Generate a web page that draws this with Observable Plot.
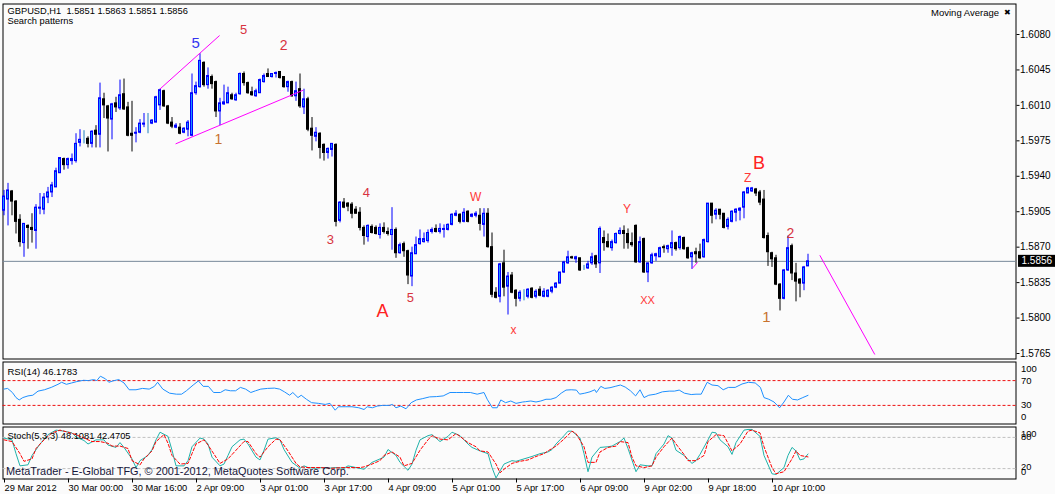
<!DOCTYPE html>
<html><head><meta charset="utf-8">
<script src="https://cdn.jsdelivr.net/npm/d3@7"></script>
<script src="https://cdn.jsdelivr.net/npm/@observablehq/plot@0.6"></script>
<style>
html,body{margin:0;padding:0;background:#fbfbfb;}
#wrap{position:relative;width:1055px;height:494px;background:#fbfbfb;overflow:hidden;font-family:"Liberation Sans",Arial,sans-serif;}
#wrap svg{position:absolute;left:0;}
</style></head><body><div id="wrap"></div>
<script>
// ---- GBPUSD H1 candles (bar index = hours from 29 Mar 2012 08:00) ----
const open = [
1.5906,1.5917,1.5925,1.5915,1.5897,1.5874,1.5891,1.5889,1.5886,1.5908,
1.5907,1.5919,1.5924,1.5929,1.5943,1.5957,1.5951,1.5955,1.5955,1.5973,
1.5975,1.5977,1.5972,1.5985,1.5981,1.6016,1.6009,1.5996,1.6012,1.6007,
1.6021,1.6008,1.5982,1.5982,1.5983,1.5991,1.5993,1.5992,1.5993,1.6010,
1.6024,1.6009,1.5993,1.5988,1.5988,1.5983,1.5986,1.5980,1.6022,1.6028,
1.6052,1.6030,1.6038,1.6033,1.6004,1.6011,1.6012,1.6020,1.6015,1.6021,
1.6041,1.6032,1.6023,1.6019,1.6022,1.6033,1.6041,1.6038,1.6041,1.6043,
1.6038,1.6028,1.6033,1.6019,1.6026,1.6008,1.6016,1.5987,1.5979,1.5982,
1.5971,1.5963,1.5966,1.5971,1.5896,1.5914,1.5913,1.5912,1.5907,1.5904,
1.5889,1.5880,1.5890,1.5889,1.5882,1.5889,1.5885,1.5882,1.5887,1.5864,
1.5873,1.5866,1.5841,1.5863,1.5873,1.5875,1.5876,1.5885,1.5888,1.5885,
1.5887,1.5887,1.5892,1.5901,1.5902,1.5895,1.5905,1.5900,1.5901,1.5901,
1.5892,1.5903,1.5870,1.5825,1.5821,1.5854,1.5831,1.5842,1.5827,1.5819,
1.5824,1.5821,1.5829,1.5821,1.5828,1.5821,1.5821,1.5826,1.5830,1.5834,
1.5845,1.5854,1.5860,1.5858,1.5859,1.5850,1.5849,1.5854,1.5861,1.5854,
1.5879,1.5875,1.5869,1.5874,1.5883,1.5886,1.5883,1.5874,1.5891,1.5855,
1.5878,1.5845,1.5854,1.5861,1.5860,1.5870,1.5868,1.5869,1.5874,1.5869,
1.5879,1.5869,1.5860,1.5865,1.5865,1.5860,1.5875,1.5913,1.5902,1.5907,
1.5903,1.5890,1.5895,1.5904,1.5906,1.5909,1.5923,1.5925,1.5927,1.5924,
1.5917,1.5881,1.5864,1.5859,1.5833,1.5819,1.5847,1.5871,1.5844,1.5838,
1.5834,1.5851];
const high = [
1.5926,1.5933,1.5926,1.5916,1.5902,1.5893,1.5892,1.5903,1.5912,1.5923,
1.5923,1.5929,1.5934,1.5948,1.5958,1.5958,1.5958,1.5962,1.5982,1.5986,
1.5985,1.5979,1.5985,1.5990,1.6032,1.6022,1.6010,1.6012,1.6018,1.6035,
1.6036,1.6013,1.6014,1.5988,1.5996,1.6002,1.6002,1.5996,1.6019,1.6026,
1.6025,1.6010,1.5998,1.5992,1.5992,1.5988,1.5995,1.6041,1.6033,1.6061,
1.6053,1.6047,1.6040,1.6034,1.6017,1.6030,1.6028,1.6022,1.6022,1.6042,
1.6043,1.6033,1.6028,1.6026,1.6036,1.6041,1.6046,1.6041,1.6043,1.6043,
1.6038,1.6034,1.6034,1.6033,1.6041,1.6026,1.6018,1.5998,1.5988,1.5983,
1.5972,1.5968,1.5972,1.5972,1.5915,1.5918,1.5914,1.5914,1.5910,1.5909,
1.5891,1.5892,1.5892,1.5891,1.5893,1.5894,1.5889,1.5909,1.5889,1.5874,
1.5875,1.5867,1.5870,1.5880,1.5887,1.5884,1.5887,1.5889,1.5892,1.5893,
1.5892,1.5893,1.5903,1.5906,1.5903,1.5908,1.5906,1.5903,1.5905,1.5908,
1.5908,1.5908,1.5884,1.5830,1.5854,1.5867,1.5845,1.5845,1.5828,1.5827,
1.5828,1.5829,1.5830,1.5828,1.5831,1.5829,1.5828,1.5831,1.5835,1.5845,
1.5856,1.5866,1.5861,1.5861,1.5859,1.5852,1.5856,1.5864,1.5862,1.5890,
1.5886,1.5883,1.5877,1.5884,1.5889,1.5891,1.5888,1.5884,1.5892,1.5880,
1.5879,1.5854,1.5864,1.5864,1.5870,1.5872,1.5872,1.5886,1.5875,1.5881,
1.5880,1.5870,1.5865,1.5869,1.5873,1.5878,1.5913,1.5913,1.5908,1.5907,
1.5903,1.5899,1.5906,1.5908,1.5909,1.5925,1.5929,1.5929,1.5928,1.5926,
1.5926,1.5884,1.5865,1.5862,1.5834,1.5848,1.5881,1.5873,1.5854,1.5839,
1.5851,1.5863];
const low = [
1.5901,1.5891,1.5901,1.5883,1.5870,1.5860,1.5868,1.5874,1.5868,1.5902,
1.5902,1.5913,1.5919,1.5929,1.5943,1.5946,1.5947,1.5951,1.5953,1.5969,
1.5972,1.5968,1.5968,1.5968,1.5968,1.5997,1.5964,1.5976,1.6003,1.6005,
1.6005,1.5979,1.5964,1.5973,1.5982,1.5988,1.5982,1.5991,1.5993,1.6005,
1.6008,1.5991,1.5987,1.5987,1.5981,1.5982,1.5979,1.5979,1.6020,1.6027,
1.6028,1.6026,1.6026,1.5998,1.5990,1.6010,1.6012,1.6015,1.6014,1.6020,
1.6029,1.6021,1.6019,1.6018,1.6022,1.6032,1.6038,1.6037,1.6037,1.6036,
1.6027,1.6023,1.6018,1.6014,1.6007,1.6001,1.5984,1.5965,1.5974,1.5957,
1.5955,1.5957,1.5959,1.5890,1.5894,1.5908,1.5905,1.5898,1.5903,1.5886,
1.5872,1.5875,1.5883,1.5882,1.5878,1.5883,1.5881,1.5867,1.5859,1.5863,
1.5860,1.5833,1.5831,1.5863,1.5872,1.5874,1.5874,1.5883,1.5884,1.5883,
1.5879,1.5886,1.5891,1.5900,1.5893,1.5894,1.5894,1.5899,1.5899,1.5886,
1.5880,1.5869,1.5820,1.5819,1.5815,1.5821,1.5803,1.5824,1.5811,1.5816,
1.5817,1.5819,1.5819,1.5819,1.5821,1.5820,1.5820,1.5824,1.5829,1.5834,
1.5844,1.5853,1.5858,1.5854,1.5846,1.5847,1.5848,1.5852,1.5849,1.5844,
1.5866,1.5869,1.5866,1.5873,1.5882,1.5868,1.5868,1.5870,1.5854,1.5854,
1.5844,1.5835,1.5853,1.5856,1.5860,1.5864,1.5864,1.5861,1.5866,1.5867,
1.5867,1.5858,1.5848,1.5854,1.5858,1.5859,1.5874,1.5893,1.5897,1.5897,
1.5888,1.5887,1.5894,1.5895,1.5896,1.5898,1.5923,1.5924,1.5920,1.5911,
1.5878,1.5851,1.5850,1.5832,1.5807,1.5818,1.5846,1.5837,1.5816,1.5820,
1.5827,1.5851];
const close = [
1.5920,1.5926,1.5915,1.5895,1.5875,1.5893,1.5889,1.5887,1.5909,1.5909,
1.5919,1.5924,1.5931,1.5945,1.5958,1.5951,1.5957,1.5957,1.5972,1.5976,
1.5975,1.5972,1.5984,1.5981,1.6017,1.6010,1.5997,1.6011,1.6008,1.6020,
1.6006,1.5980,1.5980,1.5983,1.5992,1.5992,1.5993,1.5995,1.6018,1.6025,
1.6009,1.5992,1.5989,1.5990,1.5982,1.5987,1.5993,1.6022,1.6029,1.6054,
1.6030,1.6039,1.6031,1.6004,1.6012,1.6013,1.6022,1.6016,1.6020,1.6041,
1.6032,1.6022,1.6020,1.6024,1.6035,1.6039,1.6038,1.6041,1.6042,1.6037,
1.6028,1.6033,1.6019,1.6024,1.6009,1.6016,1.5986,1.5980,1.5983,1.5968,
1.5963,1.5967,1.5972,1.5895,1.5914,1.5909,1.5910,1.5903,1.5903,1.5889,
1.5881,1.5891,1.5884,1.5883,1.5889,1.5885,1.5883,1.5887,1.5864,1.5872,
1.5866,1.5842,1.5864,1.5872,1.5878,1.5878,1.5884,1.5887,1.5885,1.5888,
1.5888,1.5892,1.5902,1.5903,1.5895,1.5904,1.5895,1.5902,1.5903,1.5893,
1.5903,1.5870,1.5823,1.5820,1.5853,1.5830,1.5841,1.5825,1.5819,1.5825,
1.5824,1.5828,1.5820,1.5826,1.5822,1.5826,1.5827,1.5830,1.5834,1.5845,
1.5855,1.5860,1.5859,1.5860,1.5847,1.5850,1.5853,1.5860,1.5853,1.5888,
1.5874,1.5870,1.5875,1.5883,1.5886,1.5883,1.5874,1.5872,1.5855,1.5875,
1.5845,1.5854,1.5862,1.5863,1.5869,1.5869,1.5871,1.5874,1.5868,1.5880,
1.5868,1.5859,1.5864,1.5863,1.5859,1.5877,1.5913,1.5901,1.5906,1.5902,
1.5889,1.5897,1.5905,1.5907,1.5908,1.5924,1.5928,1.5928,1.5923,1.5914,
1.5879,1.5865,1.5858,1.5833,1.5819,1.5847,1.5869,1.5844,1.5836,1.5834,
1.5850,1.5856];

// ---- price axis ticks ----
const priceTicks = [1.5765,1.5800,1.5835,1.5870,1.5905,1.5940,1.5975,1.6010,1.6045,1.6080];
// ---- time axis ----
const timeTickBars = [0,16,32,48,64,80,96,112,128,144,160,176,192];
const timeLabels = ["29 Mar 2012","30 Mar 00:00","30 Mar 16:00","2 Apr 09:00","3 Apr 01:00","3 Apr 17:00","4 Apr 09:00","5 Apr 01:00","5 Apr 17:00","6 Apr 09:00","9 Apr 02:00","9 Apr 18:00","10 Apr 10:00"];

// ---- wave annotations ----
const waveText  = ["5","5","2","1","3","4","A","5","W","x","Y","XX","B","Z","2","1"];
const waveBar   = [47.9,59.9,69.9,53.6,81.6,90.6,94.6,101.6,117.9,127.4,155.75,160.9,188.75,185.9,196.6,190.6];
const wavePrice = [1.6071,1.6085,1.6069,1.5976,1.5877,1.5924,1.5807,1.5820,1.5919,1.5788,1.5908,1.5817,1.5953,1.5938,1.5883,1.5801];
const waveColor = ["#3434f0","#d8333f","#d8333f","#c8722e","#d8333f","#d8333f","#ff2222","#d8333f","#ff3838","#ff3838","#ff3838","#ff3838","#ff2222","#ff3838","#d8333f","#c8722e"];
const waveSize  = [15,13,14,14,13,13,18,13,12,12,12,11,18,12,14,15];

// ---- trend lines (magenta) ----
const trendBar1 = [38.95,42.9,172.05,203.95];
const trendP1   = [1.6026,1.5972,1.5849,1.5862];
const trendBar2 = [53.9,74.8,173.4,217.7];
const trendP2   = [1.6079,1.6025,1.5855,1.5764];

// ---- RSI(14) ----
const rsiBar = [0.0,0.9,2.1,3.0,3.8,4.7,6.0,7.2,8.5,10.1,11.8,13.5,14.4,15.6,16.9,18.2,19.9,21.1,22.4,23.2,24.1,25.4,26.2,27.5,28.7,30.0,31.3,33.0,34.6,36.3,37.6,38.4,39.7,41.4,43.1,44.4,45.6,47.3,48.6,49.8,51.1,52.4,54.1,55.3,56.6,57.9,59.1,60.4,61.7,62.9,64.2,65.9,67.6,68.9,70.1,71.4,72.2,73.5,74.3,75.6,76.9,78.6,80.3,81.5,82.8,83.6,85.3,87.0,88.7,90.0,90.8,92.1,93.3,94.6,96.3,97.1,98.0,99.2,100.5,101.8,103.1,104.7,106.4,108.1,109.8,111.5,113.2,114.9,116.6,118.3,120.0,120.8,122.1,123.3,124.2,125.4,126.7,128.0,129.7,
130.4,131.7,133,134.2,135.5,136.7,138,139.3,140.5,141.8,143.1,143.9,145.2,146.5,147.7,148.1,149.2,150.2,151.5,152.8,154.1,155.3,156.6,157.9,159,160,161.2,162.9,164.6,166.3,167.6,168.8,170.1,171.8,173,174.3,175.8,177,178.5,179.8,181.1,182.8,184.5,186.1,187.8,189.1,190,191.2,192.5,193.9,195,196.1,197.1,198.4,199.7,201];
const rsiVal = [56.3,57.4,50.8,42.6,38.8,42.6,45.3,46.4,53,55.2,59,64,67.3,64,66.2,68.4,70.5,70,71.6,70,77.1,72.7,67.3,70,71.6,66.2,55.2,55.2,57.4,56.3,60.7,67.3,56.3,49.7,48.1,48.1,53.6,62.9,69.5,60.7,60.7,50.8,50.8,55.2,53.6,53.6,59,56.3,50.8,53.6,56.3,57.4,57.9,56.3,51.9,46.4,50.8,42.6,46.4,39.9,34.4,33.3,31.6,33.3,22.3,27.8,27.8,27.8,26.2,23.4,27.8,26.2,28.9,30,30,31.6,26.2,28.9,24.5,34.4,38.8,41,43.7,44.2,45.3,50.8,50.8,50.8,50.8,48.1,50.8,39.9,26.2,26.2,38.8,34.4,37.1,33.3,35.5,
36,37.1,35.5,37.1,39.9,39.9,42.6,49.7,54.7,55.2,54.7,48.1,49.7,51.9,55.2,50.8,60.7,57.4,58.5,60.7,62.9,59.6,53.6,45.3,55.2,42.6,46.4,48.1,51.9,53,53,54.7,49.7,47.5,48.1,48.1,67.3,62.9,61.8,55.2,59,59,64.5,67.3,66.2,59,42.6,39.9,35.5,26.2,35.5,46.4,39.9,38.8,42.6,46.1783];
const rsiLevels = [70,30];

// ---- Stochastic(5,3,3) ----
const stochKBar = [0,2,3,4,6,7,9,11,13,15,17,18,20,21,23,25,26,28,29,30,32,33,34,36,37,38,39,41,42,43,45,46,47,49,50,51,52,54,55,56,57,59,60,61,63,64,65,66,68,69,70,72,74,75,76,78,79,81,83,85,86,88,90,91,92,93,95,96,98,99,101,102,103,104,106,107,108,109,111,112,114,115,116,117,119,121,122,123,124,125,127,128,130,132,134,136,137,138,140,141,142,144,145,146,147,149,151,152,154,155,156,158,159,161,162,163,165,166,167,168,170,172,173,174,176,177,178,179,181,182,183,185,186,187,189,190,192,193,195,196,197,198,199,200,201];
const stochK = [78.7,75.3,48.7,25.3,27.3,45.3,67.3,85.3,94,92,88.7,80.7,74,67.3,75.3,75.3,65.3,60.7,70,60.7,38.7,22,35.3,45.3,56.7,75.3,90,82,55.3,25.3,25.3,35.3,62,78.7,76.7,67.3,42,25.3,28.7,45.3,62,75.3,76.7,67.3,42,36.7,55.3,76.7,79.3,75.3,56.7,32,20.7,25.3,22,20.7,22,20.7,22,20.7,25.3,22,18.7,25.3,32,35.3,42,56.7,45.3,32,16.7,28.7,55.3,75.3,83.3,85.3,78.7,72,82,90,83.3,75.3,67.3,60.7,54,48.7,22,2,15.3,28.7,35.3,34,38.7,43.3,48.7,52,56.7,67.3,83.3,92,92,78.7,48.7,14,42,60.7,62,63.3,72,78.7,58.7,14,27.3,25.3,25.3,48.7,67.3,83.3,78.7,55.3,45.3,30,35.3,47.3,75.3,90,88.7,75.3,62,47.3,70,94,95.3,95.3,82,45.3,10,8.7,22,45.3,60.7,54,36.7,38.7,48.1081];
const stochDBar = [0,2,4,5,7,8,10,12,14,16,18,20,22,24,26,27,29,31,32,34,35,37,38,40,41,42,44,46,47,48,50,51,53,54,56,58,60,61,63,64,66,68,69,71,73,74,76,79,82,85,89,90,92,94,95,97,99,100,102,104,106,107,109,111,113,114,116,118,119,121,123,124,125,127,129,131,133,135,136,138,140,142,143,145,146,148,149,151,153,154,156,157,158,160,162,163,165,167,168,170,171,173,175,176,178,180,181,182,184,186,187,189,190,192,193,195,197,198,199,201];
const stochD = [75.3,72,48.7,34,38.7,58.7,75.3,88.7,94,90,85.3,78.7,72,72,68.7,63.3,63.3,58.7,35.3,27.3,38.7,54,72,85.3,68.7,45.3,28.7,30,48.7,67.3,75.3,65.3,42,30,38.7,55.3,72,72,48.7,42,62,76.7,75.3,54,30,23.3,22,22,20.7,22,22,23.3,28.7,35.3,45.3,52,42,25.3,30,55.3,75.3,83.3,76.7,75.3,87.3,82,70,62,54,52,28.7,12,18.7,30,34,36.7,43.3,48.7,54,63.3,76.7,92,87.3,62,32,32,52,60.7,63.3,72,70,42,25.3,22,25.3,42,62,78.7,67.3,47.3,35.3,35.3,45.3,72,85.3,83.3,68.7,54,67.3,92,94,88.7,62,22,10,14,38.7,54,45.3,42.4705];
const stochLevels = [80,20];

// ================= build =================
const FONT = '"Liberation Sans", Arial, sans-serif';
const xScale = {domain:[-0.875, 252.875], range:[0, 1015], axis:null};
const bars = close.map((c,i)=>({i, o:open[i], h:high[i], l:low[i], c}));
const dir = d => d.c > d.o ? 1 : d.c < d.o ? -1 : 0;
const wickColor = d => dir(d) > 0 ? "#0000ff" : dir(d) < 0 ? "#000000" : "#1f7fc0";
const bodyFill  = d => dir(d) > 0 ? "#1e90ff" : dir(d) < 0 ? "#000000" : "#1f7fc0";
const waves = waveText.map((t,k)=>({t, bar:waveBar[k], p:wavePrice[k], col:waveColor[k], size:waveSize[k]}));
const trends = trendBar1.map((b,k)=>({b1:b, p1:trendP1[k], b2:trendBar2[k], p2:trendP2[k]}));
const last = bars[bars.length-1];
const fmt4 = v => v.toFixed(4);
const nb = "\u00a0";

const wrap = document.getElementById("wrap");

const main = Plot.plot({
  width:1055, height:359,
  marginLeft:2.5, marginRight:39.5, marginTop:3.5, marginBottom:0.5,
  style:{background:"transparent", fontFamily:FONT, fontSize:"10px", color:"#000", overflow:"visible"},
  x: xScale,
  y: {domain:[1.5765, 1.6080], range:[353, 34]},
  marks:[
    Plot.frame({stroke:"#000"}),
    Plot.axisY(priceTicks, {anchor:"right", tickFormat:fmt4, tickSize:3, tickPadding:1, label:null, fontSize:10}),
    Plot.ruleY([last.c], {stroke:"#778899", strokeWidth:1}),
    Plot.ruleX(bars, {x:"i", y1:"l", y2:"h", stroke:wickColor, strokeWidth:1}),
    Plot.rect(bars, {x1:d=>d.i-0.5, x2:d=>d.i+0.5, y1:"o", y2:"c", insetLeft:1, insetRight:1,
      fill:bodyFill, stroke:wickColor, strokeWidth:1}),
    Plot.link(trends, {x1:"b1", y1:"p1", x2:"b2", y2:"p2", stroke:"#ff00ff", strokeWidth:1}),
    Plot.text(waves, {x:"bar", y:"p", text:"t", fill:"col", fontSize:"size", fontFamily:FONT}),
    Plot.text([`GBPUSD,H1${nb}${nb}${fmt4(last.o)} ${fmt4(last.h)} ${fmt4(last.l)} ${fmt4(last.c)}`],
      {text:d=>d, frameAnchor:"top-left", dx:4.5, dy:7.2, lineAnchor:"middle", fontSize:9.3, fill:"#000"}),
    Plot.text(["Search patterns"], {text:d=>d, frameAnchor:"top-left", dx:4.5, dy:17.2, lineAnchor:"middle", fontSize:9.3, fill:"#000"}),
    Plot.text(["Moving Average"], {text:d=>d, frameAnchor:"top-right", dx:-17, dy:8.5, lineAnchor:"middle", textAnchor:"end", fontSize:9.5, fill:"#000"}),
    Plot.text(["\u2716"], {text:d=>d, frameAnchor:"top-right", dx:-5, dy:8.5, lineAnchor:"middle", textAnchor:"end", fontSize:8, fill:"#000"})
  ]
});
main.style.top = "0px";
wrap.appendChild(main);

// current price box on the price axis
{
  const ys = main.scale("y").apply(last.c);
  const xr = main.scale("x").range[1];
  const g = d3.select(main).append("g").attr("text-anchor", "start");
  g.append("rect").attr("x", xr + 3).attr("y", ys - 6).attr("width", 37).attr("height", 12).attr("fill", "#000");
  g.append("text").attr("x", xr + 6.5).attr("y", ys).attr("dy", "0.36em").attr("text-anchor", "start")
    .attr("fill", "#fff").attr("font-size", 10).attr("font-family", FONT).text(fmt4(last.c));
}

const rsiData = rsiBar.map((b,k)=>({b, v:rsiVal[k]}));
const rsi = Plot.plot({
  width:1055, height:66,
  marginLeft:2.5, marginRight:39.5, marginTop:2.5, marginBottom:1.5,
  style:{background:"transparent", fontFamily:FONT, fontSize:"9.5px", color:"#000", overflow:"visible"},
  x: xScale,
  y: {domain:[0,100], axis:null},
  marks:[
    Plot.frame({stroke:"#000"}),
    Plot.ruleY(rsiLevels, {stroke:"#ee1111", strokeDasharray:"3,2", strokeWidth:1}),
    Plot.line(rsiData, {x:"b", y:"v", stroke:"#1e90ff", strokeWidth:1}),
    Plot.text(["RSI(14) " + rsiVal[rsiVal.length-1].toFixed(4)], {text:d=>d, frameAnchor:"top-left", dx:4.5, dy:9.5, lineAnchor:"middle", fill:"#000"}),
    Plot.text([100], {y:d=>d, text:d=>String(d), frameAnchor:"right", dx:5, dy:7, textAnchor:"start", lineAnchor:"middle", fill:"#000"}),
    Plot.text(rsiLevels, {y:d=>d, text:d=>String(d), frameAnchor:"right", dx:5, textAnchor:"start", lineAnchor:"middle", fill:"#000"}),
    Plot.text([0], {y:d=>d, text:d=>String(d), frameAnchor:"right", dx:5, dy:-7, textAnchor:"start", lineAnchor:"middle", fill:"#000"})
  ]
});
rsi.style.top = "359px";
wrap.appendChild(rsi);

const kData = stochKBar.map((b,k)=>({b, v:stochK[k]}));
const dData = stochDBar.map((b,k)=>({b, v:stochD[k]}));
const stoch = Plot.plot({
  width:1055, height:70,
  marginLeft:2.5, marginRight:39.5, marginTop:2.5, marginBottom:15.5,
  style:{background:"transparent", fontFamily:FONT, fontSize:"9.3px", color:"#000", overflow:"visible"},
  x: xScale,
  y: {domain:[0,100], axis:null},
  marks:[
    Plot.frame({stroke:"#000"}),
    Plot.ruleY(stochLevels, {stroke:"#c0c0c0", strokeDasharray:"3,2", strokeWidth:1}),
    Plot.line(kData, {x:"b", y:"v", stroke:"#20b2aa", strokeWidth:1}),
    Plot.line(dData, {x:"b", y:"v", stroke:"#ff0000", strokeDasharray:"3,2", strokeWidth:1}),
    Plot.text([`Stoch(5,3,3) ${stochK[stochK.length-1].toFixed(4)} ${stochD[stochD.length-1].toFixed(4)}`], {text:d=>d, frameAnchor:"top-left", dx:4.5, dy:9.5, lineAnchor:"middle", fill:"#000"}),
    Plot.text(["MetaTrader - E-Global TFG, \u00a9 2001-2012, MetaQuotes Software Corp."], {text:d=>d, frameAnchor:"bottom-left", dx:3, dy:-7.5, lineAnchor:"middle", fontSize:10.9, fill:"#16163a"}),
    Plot.text([100], {y:d=>d, text:d=>String(d), frameAnchor:"right", dx:5, dy:7, textAnchor:"start", lineAnchor:"middle", fill:"#000"}),
    Plot.text([80], {y:d=>d, text:d=>String(d), frameAnchor:"right", dx:5, textAnchor:"start", lineAnchor:"middle", fill:"#000"}),
    Plot.text([20], {y:d=>d, text:d=>String(d), frameAnchor:"right", dx:5, dy:-1.5, textAnchor:"start", lineAnchor:"middle", fill:"#000"}),
    Plot.text([0], {y:d=>d, text:d=>String(d), frameAnchor:"right", dx:5, dy:-7, textAnchor:"start", lineAnchor:"middle", fill:"#000"}),
    Plot.axisX(timeTickBars, {anchor:"bottom", tickSize:4, tickPadding:1, textAnchor:"start", dx:0.5,
      tickFormat:d=>timeLabels[timeTickBars.indexOf(d)], label:null, fontSize:9.3})
  ]
});
stoch.style.top = "424px";
wrap.appendChild(stoch);
</script>
</body></html>
